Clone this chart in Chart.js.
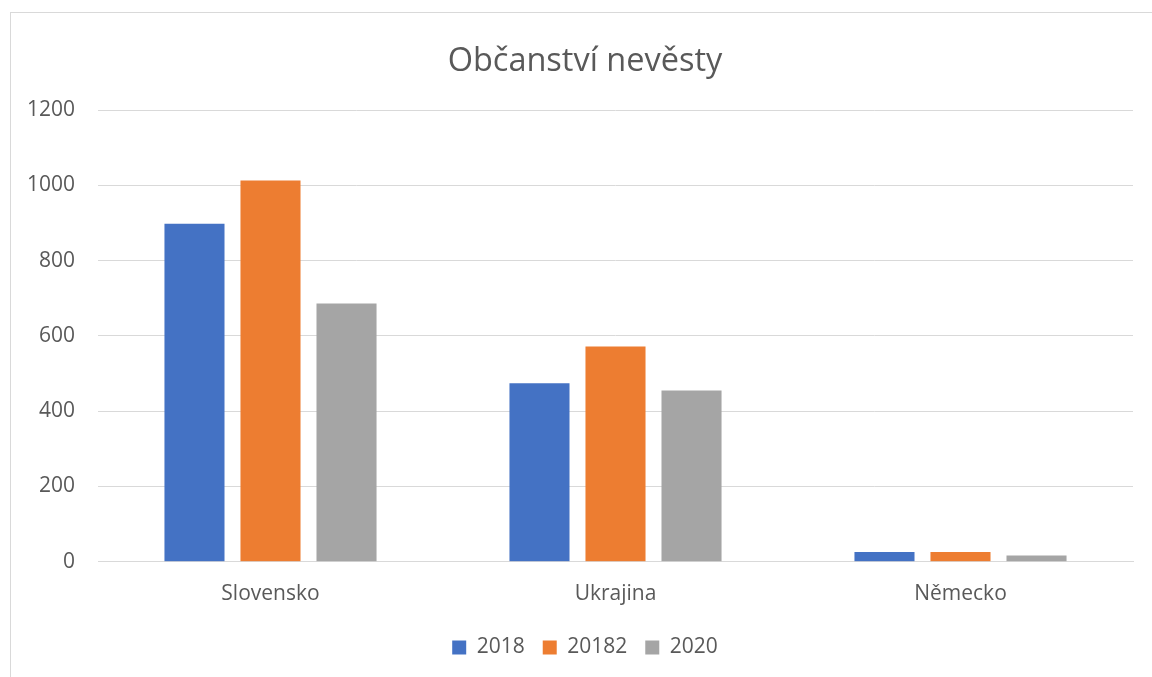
<!DOCTYPE html>
<html>
<head>
<meta charset="utf-8">
<script src="https://cdn.jsdelivr.net/npm/chart.js@4/dist/chart.umd.min.js"></script>
<style>
  body { margin: 0; background: #fff; overflow: hidden; }
  #box { position: absolute; left: 10px; top: 12px; width: 1150px; height: 680px;
         border: 1px solid #d9d9d9; box-sizing: border-box; }
</style>
</head>
<body>
<div id="box"><canvas id="chart"></canvas></div>
<script>
var categories = ["Slovensko", "Ukrajina", "Německo"];
var seriesNames = ["2018", "20182", "2020"];
var values2018 = [898, 474, 26];
var values20182 = [1013, 572, 26];
var values2020 = [686, 455, 17];
var colors = ["#4472C4", "#ED7D31", "#A5A5A5"];

var font = "'Open Sans', 'Liberation Sans', sans-serif";
var ctx = document.getElementById('chart').getContext('2d');

// y labels sit left of the plot; measure the widest so they end 23px before the grid
ctx.font = "21px " + font;
var widest = ctx.measureText("1200").width;

var myChart = new Chart(ctx, {
    type: 'bar',
    data: {
        labels: categories,
        datasets: [
            { label: seriesNames[0], data: values2018, backgroundColor: colors[0] },
            { label: seriesNames[1], data: values20182, backgroundColor: colors[1] },
            { label: seriesNames[2], data: values2020, backgroundColor: colors[2] }
        ]
    },
    options: {
        responsive: true,
        maintainAspectRatio: false,
        animation: false,
        categoryPercentage: 0.661,
        barPercentage: 0.79,
        layout: { padding: { left: 26, right: 26, top: 0, bottom: 23 } },
        plugins: {
            title: {
                display: true,
                text: 'Občanství nevěsty',
                color: '#595959',
                font: { family: font, size: 32.5, weight: 'normal' },
                padding: { top: 29, bottom: 29 }
            },
            legend: {
                position: 'bottom',
                labels: {
                    color: '#595959',
                    font: { family: font, size: 21 },
                    boxWidth: 14,
                    boxHeight: 14,
                    padding: 18
                }
            },
            tooltip: { enabled: false }
        },
        scales: {
            x: {
                grid: { display: false },
                border: { color: '#d9d9d9' },
                ticks: { color: '#595959', font: { family: font, size: 21 }, padding: 12 }
            },
            y: {
                min: 0,
                max: 1200,
                ticks: {
                    stepSize: 200, color: '#595959', font: { family: font, size: 21 },
                    mirror: true, crossAlign: 'far', padding: -23 - widest,
                    callback: function (v) { return String(v); }
                },
                grid: { color: '#d9d9d9', drawTicks: false },
                border: { display: false },
                afterFit: function (scale) { scale.width = 61; }
            }
        }
    }
});
</script>
</body>
</html>
